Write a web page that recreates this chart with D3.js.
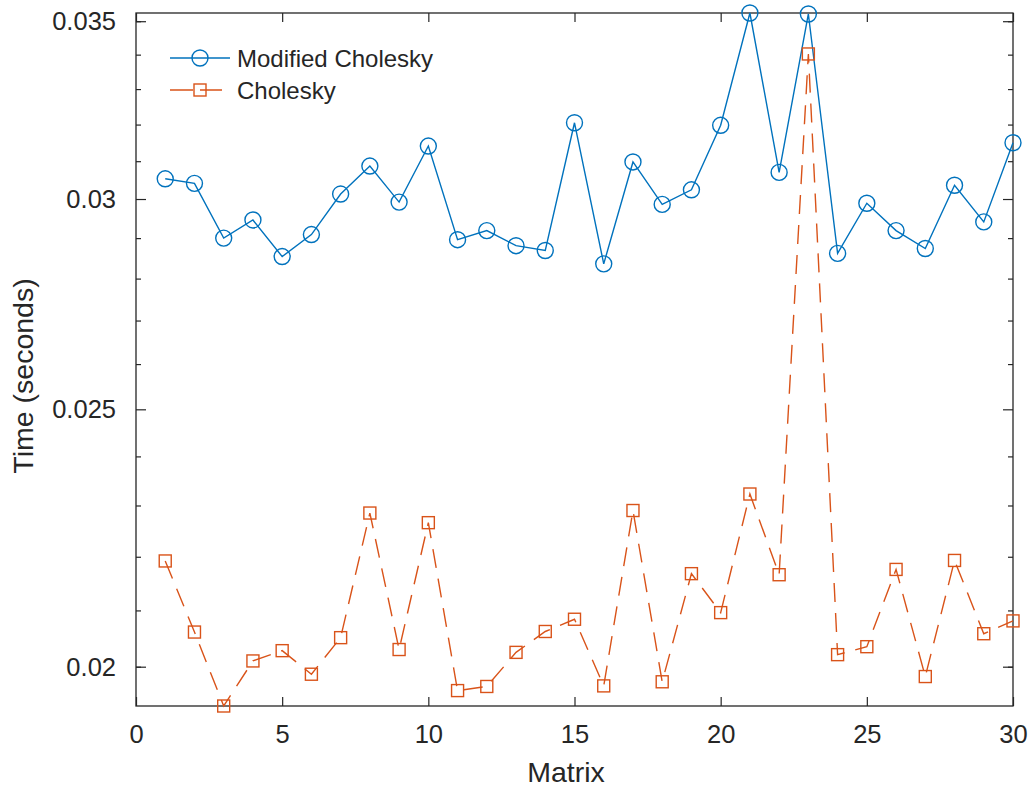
<!DOCTYPE html>
<html>
<head>
<meta charset="utf-8">
<script src="https://cdn.jsdelivr.net/npm/d3@7"></script>
<style>
  html, body { margin: 0; padding: 0; background: #ffffff; }
  svg { display: block; font-family: "Liberation Sans", Arial, Helvetica, sans-serif; }
</style>
</head>
<body>
<svg id="chart" width="1028" height="787"></svg>
<script>
// Matrix index along the x axis
const matrices = [1, 2, 3, 4, 5, 6, 7, 8, 9, 10, 11, 12, 13, 14, 15,
                  16, 17, 18, 19, 20, 21, 22, 23, 24, 25, 26, 27, 28, 29, 30];

// Run time (seconds) for each factorization
const modifiedCholesky = [0.03053, 0.03041, 0.02900, 0.02946, 0.02854, 0.02909, 0.03013, 0.03087, 0.02992, 0.03141,
                          0.02896, 0.02919, 0.02881, 0.02869, 0.03205, 0.02836, 0.03098, 0.02986, 0.03024, 0.03198,
                          0.03525, 0.03070, 0.03522, 0.02862, 0.02989, 0.02919, 0.02874, 0.03036, 0.02941, 0.03150];
const cholesky = [0.02192, 0.02061, 0.01933, 0.02010, 0.02028, 0.01987, 0.02051, 0.02285, 0.02030, 0.02266,
                  0.01959, 0.01966, 0.02025, 0.02062, 0.02084, 0.01967, 0.02290, 0.01974, 0.02168, 0.02096,
                  0.02323, 0.02166, 0.03402, 0.02021, 0.02035, 0.02176, 0.01983, 0.02193, 0.02058, 0.02081];

// Axis ticks
const xTicks = [0, 5, 10, 15, 20, 25, 30];
const yTicks = [0.02, 0.025, 0.03, 0.035];
const yTickLabels = ["0.02", "0.025", "0.03", "0.035"];
const yMinorTicks = [0.020, 0.021, 0.022, 0.023, 0.024, 0.026, 0.027, 0.028, 0.029,
                     0.031, 0.032, 0.033, 0.034, 0.035];

const seriesNames = ["Modified Cholesky", "Cholesky"];
const BLUE = "#0072BD", ORANGE = "#D95319", INK = "#262626";

const L = 136, R = 1013, T = 13, B = 706;
const svg = d3.select("#chart");

const x = d3.scaleLinear().domain([0, 30]).range([L, R]);
const allVals = modifiedCholesky.concat(cholesky);
const y = d3.scaleLog().domain([d3.min(allVals), d3.max(allVals)]).range([B, T]);

// Plot box
svg.append("rect")
  .attr("x", L).attr("y", T).attr("width", R - L).attr("height", B - T)
  .attr("fill", "none").attr("stroke", INK).attr("stroke-width", 1.3);

function styleAxis(g) {
  g.attr("color", INK);
  g.select(".domain").remove();
  g.selectAll(".tick line").attr("stroke-width", 1.2);
}

// Bottom axis with labels, top axis ticks only
const gx = svg.append("g").attr("transform", `translate(0,${B})`)
  .call(d3.axisBottom(x).tickValues(xTicks).tickSize(-9).tickPadding(0).tickFormat(d3.format("d")))
  .call(styleAxis);
gx.selectAll("text").attr("y", 37).attr("dy", null)
  .attr("font-size", 25.5).attr("fill", INK);

svg.append("g").attr("transform", `translate(0,${T})`)
  .call(d3.axisTop(x).tickValues(xTicks).tickSize(-9).tickFormat(""))
  .call(styleAxis);

// Left axis: major ticks with labels plus minor ticks
const gy = svg.append("g").attr("transform", `translate(${L},0)`)
  .call(d3.axisLeft(y).tickValues(yTicks).tickSize(-10).tickPadding(0)
    .tickFormat((d, i) => yTickLabels[i]))
  .call(styleAxis);
gy.selectAll("text").attr("x", -20).attr("dy", "0.34em")
  .attr("font-size", 25.5).attr("fill", INK).attr("text-anchor", "end");

svg.append("g").attr("transform", `translate(${L},0)`)
  .call(d3.axisLeft(y).tickValues(yMinorTicks).tickSize(-5).tickFormat(""))
  .call(styleAxis);

// Right axis ticks
svg.append("g").attr("transform", `translate(${R},0)`)
  .call(d3.axisRight(y).tickValues(yTicks).tickSize(-10).tickFormat(""))
  .call(styleAxis);
svg.append("g").attr("transform", `translate(${R},0)`)
  .call(d3.axisRight(y).tickValues(yMinorTicks).tickSize(-5).tickFormat(""))
  .call(styleAxis);

// Axis titles
svg.append("text")
  .attr("x", 566).attr("y", 782)
  .attr("text-anchor", "middle").attr("font-size", 28.5).attr("fill", INK)
  .text("Matrix");
svg.append("text")
  .attr("transform", "translate(33,376) rotate(-90)")
  .attr("text-anchor", "middle").attr("font-size", 28.5).attr("fill", INK)
  .text("Time (seconds)");

// Series
const line = d3.line().x((d, i) => x(matrices[i])).y(d => y(d));

svg.append("path").datum(modifiedCholesky)
  .attr("d", line).attr("fill", "none")
  .attr("stroke", BLUE).attr("stroke-width", 1.4).attr("stroke-linejoin", "miter");
svg.append("g").selectAll("circle").data(modifiedCholesky).join("circle")
  .attr("cx", (d, i) => x(matrices[i])).attr("cy", d => y(d)).attr("r", 8)
  .attr("fill", "none").attr("stroke", BLUE).attr("stroke-width", 1.4);

svg.append("path").datum(cholesky)
  .attr("d", line).attr("fill", "none")
  .attr("stroke", ORANGE).attr("stroke-width", 1.4).attr("stroke-dasharray", "19,11");
svg.append("g").selectAll("rect").data(cholesky).join("rect")
  .attr("x", (d, i) => x(matrices[i]) - 6).attr("y", d => y(d) - 6)
  .attr("width", 12).attr("height", 12)
  .attr("fill", "none").attr("stroke", ORANGE).attr("stroke-width", 1.4);

// Legend
const legend = svg.append("g");
const rows = [
  { name: seriesNames[0], color: BLUE, dash: null, marker: "circle", cy: 58 },
  { name: seriesNames[1], color: ORANGE, dash: "23,7,22", marker: "square", cy: 90 }
];
rows.forEach(r => {
  legend.append("line")
    .attr("x1", 170).attr("x2", 230).attr("y1", r.cy).attr("y2", r.cy)
    .attr("stroke", r.color).attr("stroke-width", 1.4)
    .attr("stroke-dasharray", r.dash);
  if (r.marker === "circle") {
    legend.append("circle").attr("cx", 200).attr("cy", r.cy).attr("r", 8)
      .attr("fill", "none").attr("stroke", r.color).attr("stroke-width", 1.4);
  } else {
    legend.append("rect").attr("x", 194).attr("y", r.cy - 6).attr("width", 12).attr("height", 12)
      .attr("fill", "none").attr("stroke", r.color).attr("stroke-width", 1.4);
  }
  legend.append("text")
    .attr("x", 237).attr("y", r.cy + 9)
    .attr("font-size", 24).attr("fill", INK)
    .text(r.name);
});
</script>
</body>
</html>
